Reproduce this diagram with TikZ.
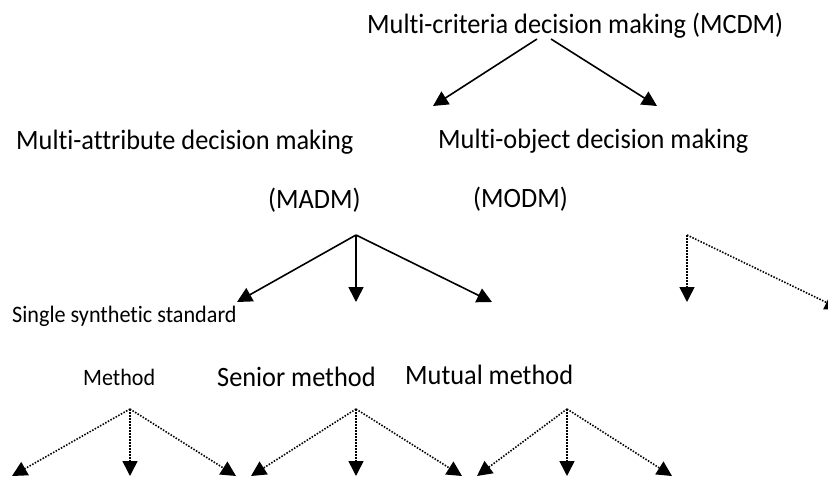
\documentclass[tikz,border=0pt]{standalone}
\usepackage{fontspec}
\setmainfont[FakeStretch=0.94,Ligatures=NoCommon]{Carlito}
\usetikzlibrary{arrows.meta}
\begin{document}
\begin{tikzpicture}[x=1pt,y=-1pt,
  lbl/.style={inner sep=0pt,anchor=base west,font=\fontsize{28}{30}\selectfont},
  smalllbl/.style={lbl,font=\fontsize{23.6}{25}\selectfont},
  midlbl/.style={lbl,font=\fontsize{23.5}{26}\selectfont},
  solidarrow/.style={line width=1.6pt,-{Triangle[length=15pt,width=15pt]}},
  dotarrow/.style={line width=1.6pt,dash pattern=on 1.5pt off 1.5pt,-{Triangle[length=15pt,width=15pt]}}]
\clip (0,0) rectangle (828,477);
\useasboundingbox (0,0) rectangle (828,477);

% labels
\node[lbl] (mcdm) at (367,33) {Multi-criteria decision making (MCDM)};
\node[lbl] (madm) at (16,149) {Multi-attribute decision making};
\node[lbl] (modm) at (438,148) {Multi-object decision making};
\node[lbl] (madmab) at (268,208) {(MADM)};
\node[lbl] (modmab) at (473,207) {(MODM)};
\node[smalllbl] (single) at (12,322) {Single synthetic standard};
\node[midlbl] (method) at (83,385) {Method};
\node[lbl] (senior) at (217,386) {Senior method};
\node[lbl] (mutual) at (405,384) {Mutual method};

% branch points and arrow ends
\coordinate (topL) at (537,39);
\coordinate (topR) at (551,39);
\coordinate (tipMADM) at (433,106);
\coordinate (tipMODM) at (657,106);

\coordinate (aMADM) at (356,235);
\coordinate (tA1) at (237,302);
\coordinate (tA2) at (356,302);
\coordinate (tA3) at (492,302);

\coordinate (aMODM) at (687,235);
\coordinate (tO1) at (687,302);
\coordinate (tO2) at (840,309);

\coordinate (g1) at (130,409);
\coordinate (g1a) at (12,476);
\coordinate (g1b) at (130,476);
\coordinate (g1c) at (236,476);

\coordinate (g2) at (356,409);
\coordinate (g2a) at (251,476);
\coordinate (g2b) at (356,476);
\coordinate (g2c) at (462,476);

\coordinate (g3) at (567,409);
\coordinate (g3a) at (477,476);
\coordinate (g3b) at (567,476);
\coordinate (g3c) at (672,476);

% solid connectors
\draw[solidarrow] (topL) -- (tipMADM);
\draw[solidarrow] (topR) -- (tipMODM);
\draw[solidarrow] (aMADM) -- (tA1);
\draw[solidarrow] (aMADM) -- (tA2);
\draw[solidarrow] (aMADM) -- (tA3);

% dotted connectors
\draw[dotarrow] (aMODM) -- (tO1);
\draw[dotarrow] (aMODM) -- (tO2);
\foreach \g in {g1,g2,g3}{
  \draw[dotarrow] (\g) -- (\g a);
  \draw[dotarrow] (\g) -- (\g b);
  \draw[dotarrow] (\g) -- (\g c);
}
\end{tikzpicture}
\end{document}
